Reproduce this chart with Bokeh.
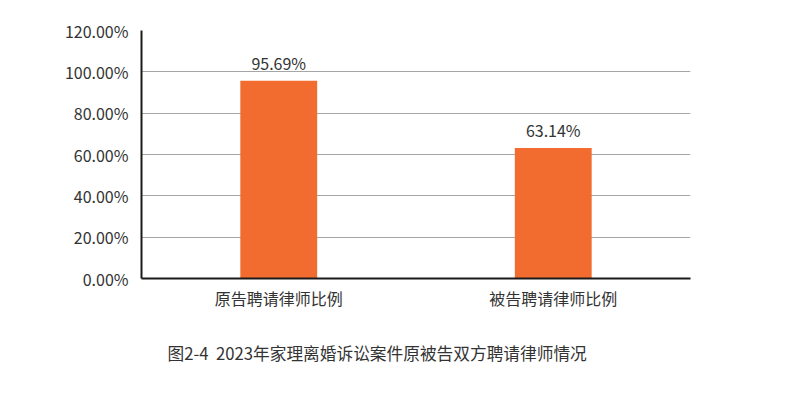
from bokeh.plotting import figure
from bokeh.models import ColumnDataSource, FactorRange, Range1d, FixedTicker, PrintfTickFormatter, LabelSet, Title
from bokeh.core.properties import value
from bokeh.embed import file_html
from bokeh.resources import INLINE

categories = ["原告聘请律师比例", "被告聘请律师比例"]
values = [95.69, 63.14]
labels = ["95.69%", "63.14%"]
y_ticks = [0, 20, 40, 60, 80, 100, 120]
caption = "图2-4\u00a0\u00a02023年家理离婚诉讼案件原被告双方聘请律师情况"

FONT = "Noto Sans CJK SC"
TXT = "#333333"

src = ColumnDataSource(dict(cat=categories, val=values, lab=labels))

p = figure(width=789, height=396, x_range=FactorRange(*categories, range_padding=0),
           y_range=Range1d(0, 120), output_backend="svg", toolbar_location=None,
           min_border_left=141, min_border_right=99, min_border_top=30, min_border_bottom=118)
p.outline_line_color = None
p.vbar(x="cat", top="val", width=0.28, source=src, color="#F26C30", line_color=None)

p.yaxis.ticker = FixedTicker(ticks=y_ticks)
p.yaxis.formatter = PrintfTickFormatter(format="%.2f%%")
for ax in (p.xaxis[0], p.yaxis[0]):
    ax.major_tick_line_color = None
    ax.minor_tick_line_color = None
    ax.axis_line_color = "#1a1a1a"
    ax.axis_line_width = 2
    ax.major_label_text_font = FONT
    ax.major_label_text_font_size = "16px"
    ax.major_label_text_color = TXT
p.yaxis.major_label_standoff = 7
p.xaxis.major_label_standoff = 1

p.xgrid.grid_line_color = None
p.ygrid.grid_line_color = "#a6a6a6"
p.ygrid.grid_line_width = 1

p.add_layout(LabelSet(x="cat", y="val", text="lab", source=src, text_align="center",
                      text_baseline="bottom", y_offset=6, text_font=value(FONT),
                      text_font_size=value("16px"), text_color=value(TXT)))

p.add_layout(Title(text=caption, align="left", offset=26, standoff=52,
                   text_font=FONT, text_font_size="16.7px", text_color=TXT,
                   text_font_style="normal"), "below")

open("out.html", "w").write(file_html(p, INLINE))
